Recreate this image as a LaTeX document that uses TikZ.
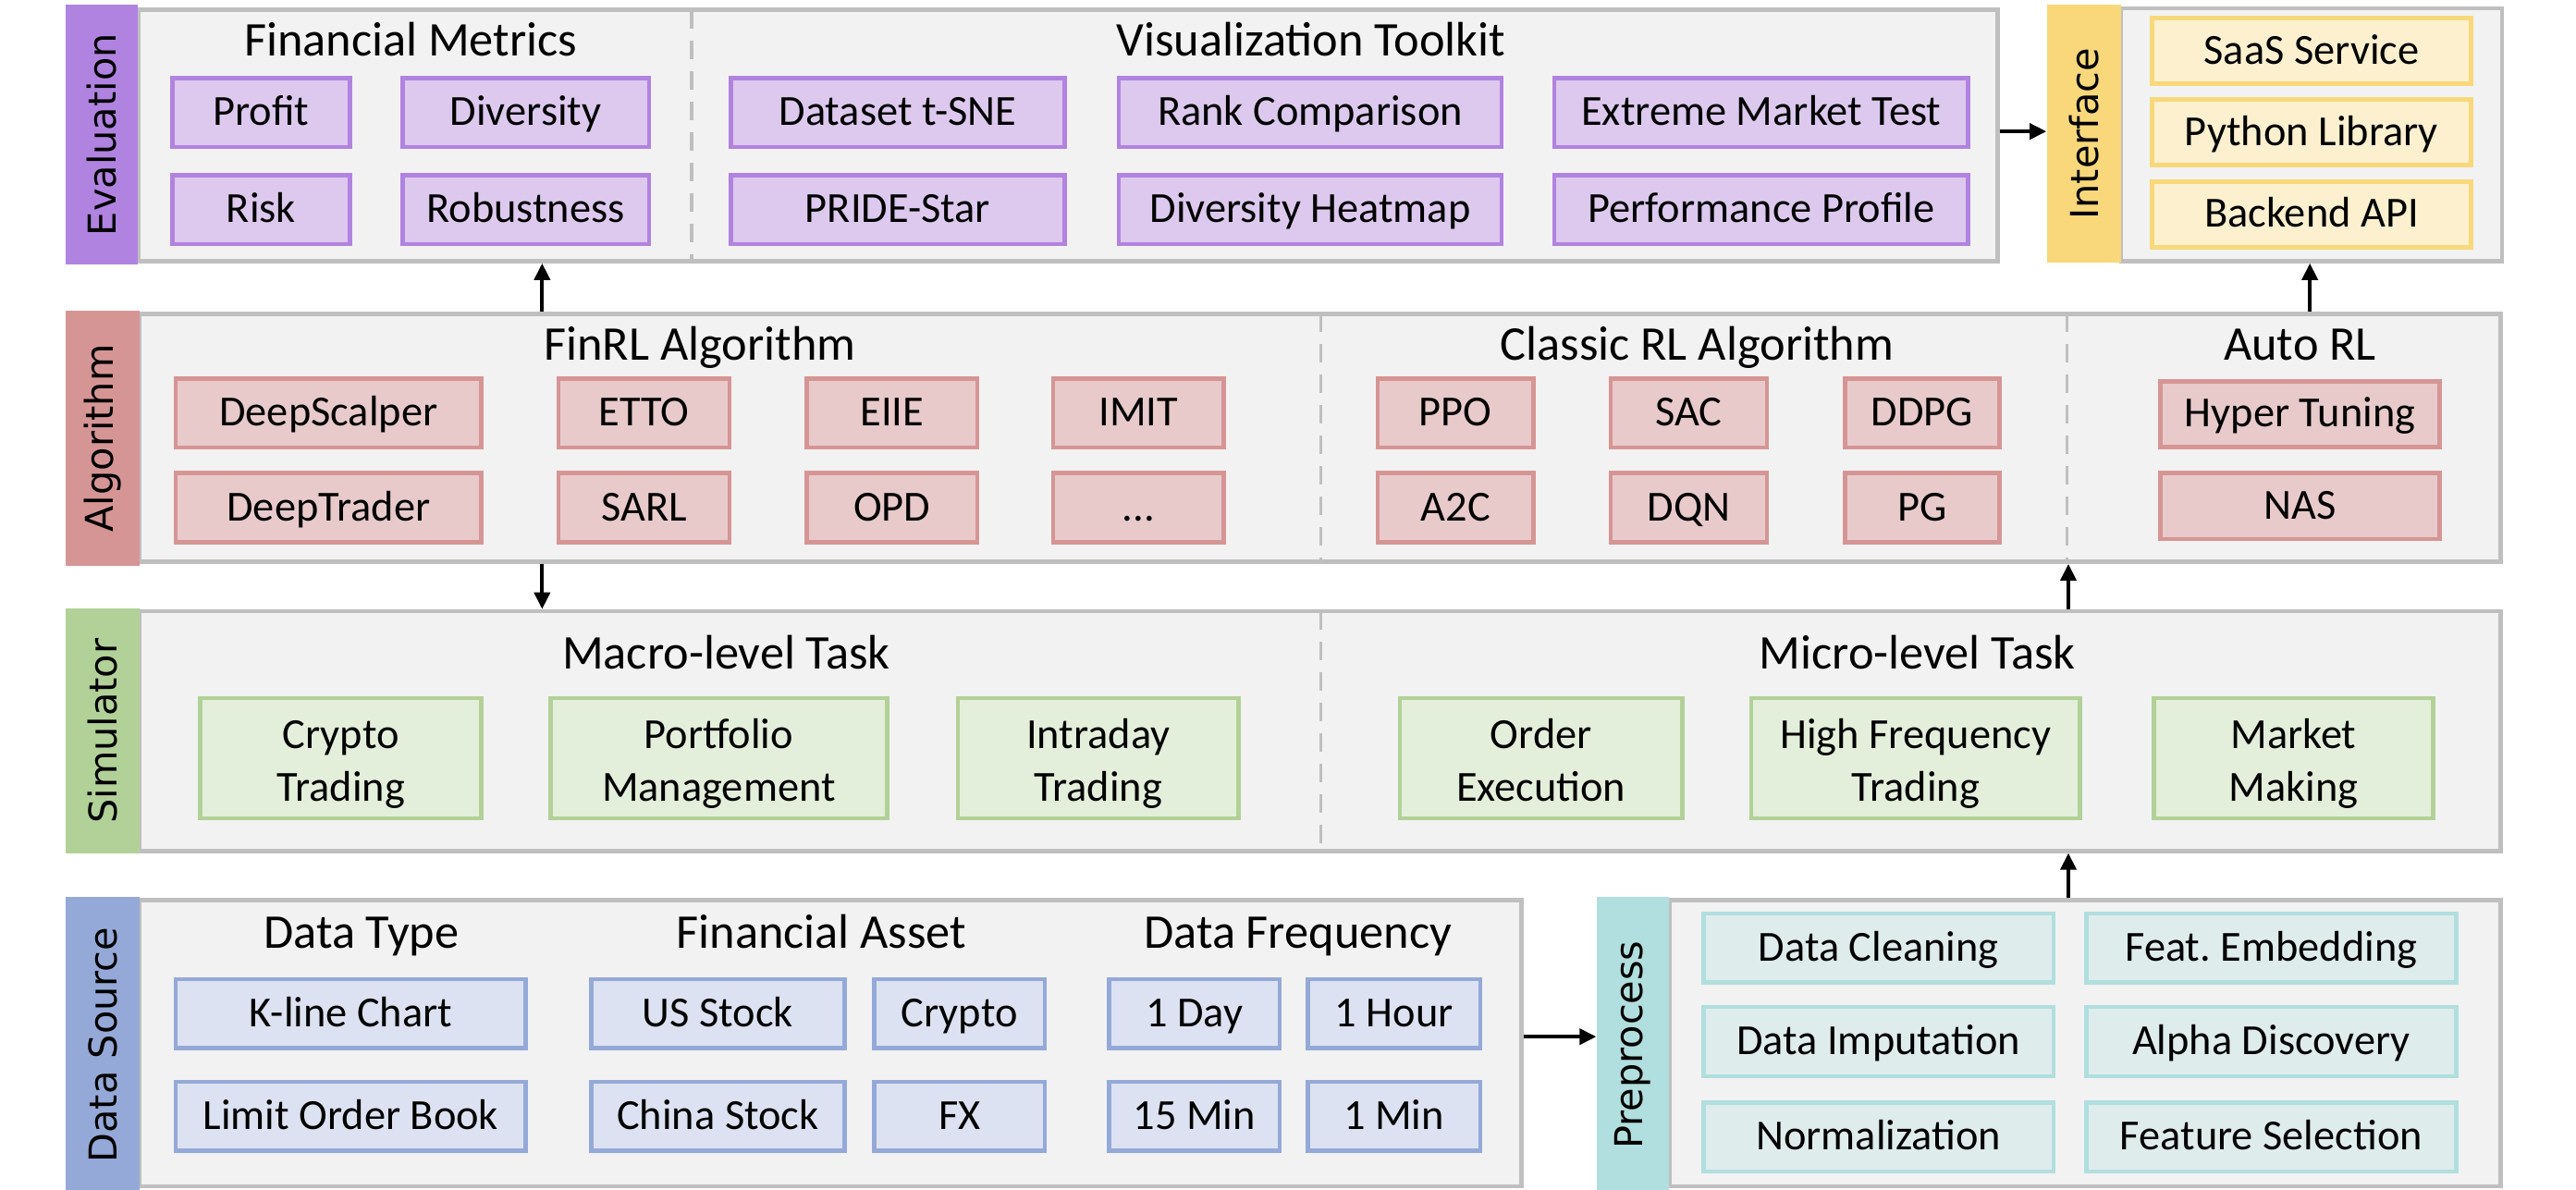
\documentclass[tikz,border=0pt]{standalone}
\usepackage{fontspec}
\setmainfont{Carlito}
\newfontfamily\sidefont{DejaVu Sans}
\usetikzlibrary{arrows.meta}

\definecolor{panelfill}{HTML}{F2F2F2}
\definecolor{panelline}{HTML}{BFBFBF}
\definecolor{evalbar}{HTML}{B183E0}
\definecolor{evalfill}{HTML}{DDC8EE}
\definecolor{algobar}{HTML}{D69595}
\definecolor{algofill}{HTML}{E8CACB}
\definecolor{simbar}{HTML}{B2D198}
\definecolor{simfill}{HTML}{E3EFDA}
\definecolor{databar}{HTML}{95A9D8}
\definecolor{datafill}{HTML}{DCE2F1}
\definecolor{prebar}{HTML}{B1DEDE}
\definecolor{prefill}{HTML}{DFECEC}
\definecolor{intbar}{HTML}{F8D87A}
\definecolor{intfill}{HTML}{FCF0CF}

% one unit = one pixel of the 1568 wide sketch
\newcommand{\px}{0.1777mm}

\tikzset{
	wh/.style 2 args={minimum width={#1*\px}, minimum height={#2*\px}},
	panel/.style={draw=panelline, fill=panelfill, line width=1.3pt, inner sep=0pt},
	sidebar/.style={rotate=90, inner sep=0pt, font=\sidefont\fontsize{11.8}{14}\selectfont},
	title/.style={anchor=base, inner sep=0pt, font=\fontsize{14.9}{17}\selectfont},
	item/.style={draw, line width=1.3pt, inner sep=0pt, align=center, font=\fontsize{13.2}{16.2}\selectfont,
		text height=0.8em, text depth=0pt},
	evitem/.style={item, draw=evalbar, fill=evalfill},
	alitem/.style={item, draw=algobar, fill=algofill},
	simitem/.style={item, draw=simbar, fill=simfill, text height=26.7pt, text depth=0pt},
	dsitem/.style={item, draw=databar, fill=datafill},
	ppitem/.style={item, draw=prebar, fill=prefill},
	ifitem/.style={item, draw=intbar, fill=intfill},
	divider/.style={draw=panelline, line width=0.9pt, dash pattern=on 2mm off 1.3mm},
}

\begin{document}
\begin{tikzpicture}[x=\px, y=-\px, >={Triangle[length=1.8mm,width=1.7mm]}]
	\useasboundingbox (0,0) rectangle (1568,724);
	% panels
	\node[panel, wh={1132}{153}] (evpanel) at (650,82.5) {};
	\node[panel, wh={232}{154}] (ifpanel) at (1407,82) {};
	\node[panel, wh={1437}{151}] (alpanel) at (803.5,266.5) {};
	\node[panel, wh={1437}{146}] (simpanel) at (803.5,445) {};
	\node[panel, wh={841}{174}] (dspanel) at (505.5,635) {};
	\node[panel, wh={506}{174}] (pppanel) at (1269,635) {};
	% side bars
	\node[sidebar, fill=evalbar, wh={158}{44}] (evbar) at (62,82) {Evaluation};
	\node[sidebar, fill=intbar, wh={157}{45}] (ifbar) at (1268.5,81.5) {Interface};
	\node[sidebar, fill=algobar, wh={155}{45}] (albar) at (62.5,266.75) {Algorithm};
	\node[sidebar, fill=simbar, wh={149}{45}] (simbar) at (62.5,445) {Simulator};
	\node[sidebar, fill=databar, wh={180}{45}] (dsbar) at (62.5,636) {Data Source};
	\node[sidebar, fill=prebar, wh={180}{44}] (ppbar) at (994,636) {Preprocess};
	% dashed separators
	\draw[divider] (421,6) -- (421,159);
	\draw[divider] (804,191) -- (804,342);
	\draw[divider] (1258,191) -- (1258,342);
	\draw[divider] (804,372) -- (804,518);
	% titles
	\path
	(250,34) node[title] (finmetric) {Financial Metrics}
	(798,34) node[title] (vistool) {Visualization Toolkit}
	(426,219) node[title] (finrl) {FinRL Algorithm}
	(1033,219) node[title] (classicrl) {Classic RL Algorithm}
	(1400,219) node[title] (autorl) {Auto RL}
	(442,407) node[title] (macro) {Macro-level Task}
	(1167,407) node[title] (micro) {Micro-level Task}
	(220,577) node[title] (datatype) {Data Type}
	(500,577) node[title] (finasset) {Financial Asset}
	(790,577) node[title] (datafreq) {Data Frequency}
	;
	% evaluation
	\path
	(159,68.5) node[evitem, wh={108}{42}] (profit) {Profit}
	(320,68.5) node[evitem, wh={150}{42}] (diversity) {Diversity}
	(159,127.5) node[evitem, wh={108}{42}] (risk) {Risk}
	(320,127.5) node[evitem, wh={150}{42}] (robust) {Robustness}
	(546.5,68.5) node[evitem, wh={203}{42}] (tsne) {Dataset t-SNE}
	(797.5,68.5) node[evitem, wh={233}{42}] (rankcmp) {Rank Comparison}
	(1072,68.5) node[evitem, wh={252}{42}] (extreme) {Extreme Market Test}
	(546.5,127.5) node[evitem, wh={203}{42}] (pride) {PRIDE-Star}
	(797.5,127.5) node[evitem, wh={233}{42}] (divheat) {Diversity Heatmap}
	(1072,127.5) node[evitem, wh={252}{42}] (perfprof) {Performance Profile}
	;
	% interface
	\path
	(1407,31) node[ifitem, wh={194}{40}] (saas) {SaaS Service}
	(1407,80.5) node[ifitem, wh={194}{40}] (pylib) {Python Library}
	(1407,130.5) node[ifitem, wh={194}{40}] (backend) {Backend API}
	;
	% algorithm
	\path
	(200,251.5) node[alitem, wh={186}{42}] (scalper) {DeepScalper}
	(392,251.5) node[alitem, wh={104}{42}] (etto) {ETTO}
	(543,251.5) node[alitem, wh={104}{42}] (eiie) {EIIE}
	(693,251.5) node[alitem, wh={104}{42}] (imit) {IMIT}
	(200,309) node[alitem, wh={186}{42}] (trader) {DeepTrader}
	(392,309) node[alitem, wh={104}{42}] (sarl) {SARL}
	(543,309) node[alitem, wh={104}{42}] (opd) {OPD}
	(693,309) node[alitem, wh={104}{42}] (more) {...}
	(886,251.5) node[alitem, wh={95}{42}] (ppo) {PPO}
	(1028,251.5) node[alitem, wh={95}{42}] (sac) {SAC}
	(1170,251.5) node[alitem, wh={94}{42}] (ddpg) {DDPG}
	(886,309) node[alitem, wh={95}{42}] (atwoc) {A2C}
	(1028,309) node[alitem, wh={95}{42}] (dqn) {DQN}
	(1170,309) node[alitem, wh={94}{42}] (pg) {PG}
	(1400,252) node[alitem, wh={170}{40}] (hyper) {Hyper Tuning}
	(1400,308) node[alitem, wh={170}{40}] (nas) {NAS}
	;
	% simulator
	\path
	(207.5,461.5) node[simitem, wh={171}{73}] (crypto) {Crypto\\Trading}
	(437.5,461.5) node[simitem, wh={205}{73}] (portfolio) {Portfolio\\Management}
	(668.5,461.5) node[simitem, wh={171}{73}] (intraday) {Intraday\\Trading}
	(938,461.5) node[simitem, wh={172}{73}] (order) {Order\\Execution}
	(1166,461.5) node[simitem, wh={200}{73}] (hft) {High Frequency\\Trading}
	(1396,461.5) node[simitem, wh={170}{73}] (making) {Market\\Making}
	;
	% data source
	\path
	(213.5,617) node[dsitem, wh={213}{42}] (kline) {K-line Chart}
	(213.5,679.5) node[dsitem, wh={213}{42}] (lob) {Limit Order Book}
	(437,617) node[dsitem, wh={154}{42}] (usstock) {US Stock}
	(437,679.5) node[dsitem, wh={154}{42}] (cnstock) {China Stock}
	(584,617) node[dsitem, wh={104}{42}] (coin) {Crypto}
	(584,679.5) node[dsitem, wh={104}{42}] (fx) {FX}
	(727,617) node[dsitem, wh={104}{42}] (oneday) {1 Day}
	(727,679.5) node[dsitem, wh={104}{42}] (fifteenmin) {15 Min}
	(848.5,617) node[dsitem, wh={105}{42}] (onehour) {1 Hour}
	(848.5,679.5) node[dsitem, wh={105}{42}] (onemin) {1 Min}
	;
	% preprocess
	\path
	(1143.5,577) node[ppitem, wh={213}{42}] (cleaning) {Data Cleaning}
	(1382.5,577) node[ppitem, wh={225}{42}] (embedding) {Feat.\ Embedding}
	(1143.5,634) node[ppitem, wh={213}{42}] (imputation) {Data Imputation}
	(1382.5,634) node[ppitem, wh={225}{42}] (alpha) {Alpha Discovery}
	(1143.5,692) node[ppitem, wh={213}{42}] (norm) {Normalization}
	(1382.5,692) node[ppitem, wh={225}{42}] (selection) {Feature Selection}
	;
	% flow
	\draw[->, line width=1.1pt] (alpanel.north -| 330,0) -- (evpanel.south -| 330,0);
	\draw[->, line width=1.1pt] (evpanel.east |- 0,80) -- (ifbar.north |- 0,80);
	\draw[->, line width=1.1pt] (alpanel.north -| 1406,0) -- (ifpanel.south -| 1406,0);
	\draw[->, line width=1.1pt] (alpanel.south -| 330,0) -- (simpanel.north -| 330,0);
	\draw[->, line width=1.1pt] (simpanel.north -| 1259,0) -- (alpanel.south -| 1259,0);
	\draw[->, line width=1.1pt] (pppanel.north -| 1259,0) -- (simpanel.south -| 1259,0);
	\draw[->, line width=1.1pt] (dspanel.east |- 0,631) -- (ppbar.north |- 0,631);
\end{tikzpicture}
\end{document}
